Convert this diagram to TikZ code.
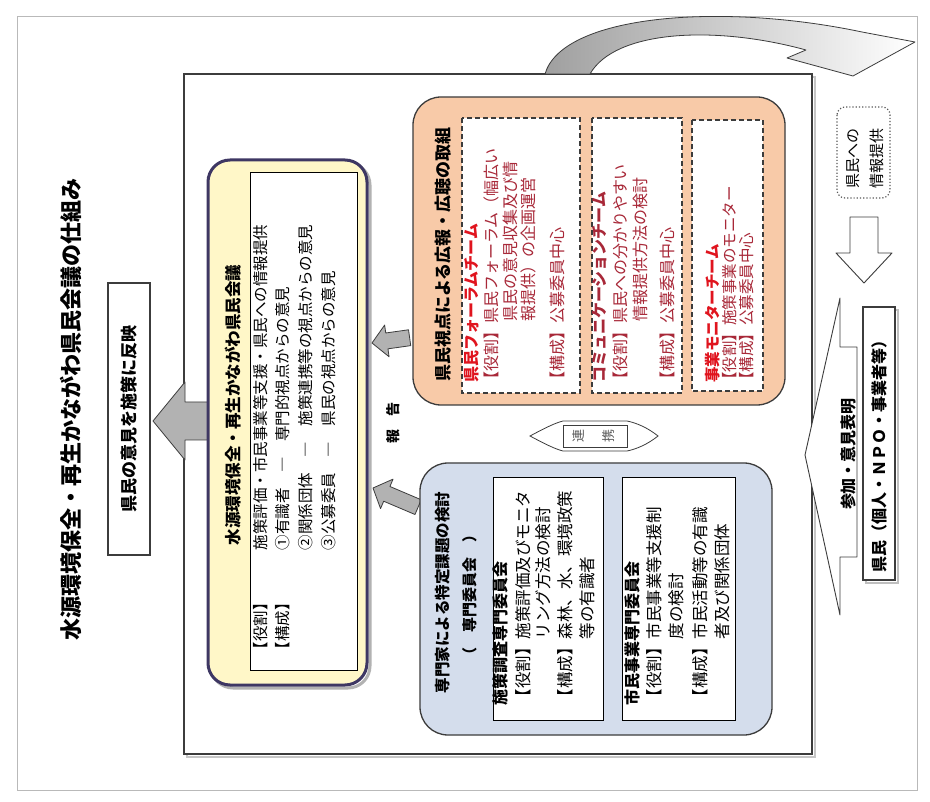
\documentclass[tikz,border=0pt]{standalone}
\usepackage{fontspec}
\setmainfont{Noto Sans CJK JP}
\definecolor{yfill}{HTML}{FFF7C8}
\definecolor{yborder}{HTML}{3E3763}
\definecolor{ofill}{HTML}{F8CAA8}
\definecolor{bfill}{HTML}{D4DDEC}
\definecolor{edge}{HTML}{3C3C3C}
\definecolor{tred}{HTML}{E0141E}
\definecolor{bred}{HTML}{A82838}
\definecolor{agray}{HTML}{B2B2B2}
\newcommand{\jfs}[1]{\fontsize{#1}{#1}\selectfont}
\begin{document}
\begin{tikzpicture}[x=1pt,y=-1pt,
  vt/.style={rotate=90, anchor=west, inner sep=0pt, outer sep=0pt},
  vc/.style={rotate=90, anchor=center, inner sep=0pt, outer sep=0pt},
  ybody/.style={vt, font=\jfs{15.5}},
  obody/.style={vt, font=\jfs{16}, text=bred},
  otitle/.style={vt, font=\jfs{16}\bfseries, text=tred},
  bbody/.style={vt, font=\jfs{16.5}},
  btitle/.style={vt, font=\jfs{16}\bfseries},
  blockarrow/.style={fill=agray, draw=edge, line width=0.8pt, line join=round},
  roundbox/.style={rounded corners=28pt, line width=1.3pt, draw=edge},
  dashbox/.style={fill=white, draw=edge, dashed, dash pattern=on 5pt off 3pt, line width=1.3pt},
  plainbox/.style={fill=white, draw=black, line width=1pt}
]
\useasboundingbox (0,0) rectangle (930,802);
\fill[white] (0,0) rectangle (930,802);
% outer thin border
\draw[gray!55, line width=0.6pt] (17,16) rectangle (917,790);

% title
\node[vt, font=\jfs{22}\bfseries] (title) at (71,640) {水源環境保全・再生かながわ県民会議の仕組み};

% reflect box
\node[draw=edge, line width=1.2pt, rotate=90, minimum width=272pt, minimum height=42pt,
      inner sep=0pt, font=\jfs{17}\bfseries] (reflect) at (129,419) {県民の意見を施策に反映};

% main frame (with light shadow)
\draw[gray!45, line width=2pt] (187,77) rectangle (815,757);
\draw[fill=white, draw=edge, line width=1.2pt] (184,74) rectangle (812,754);

% big left arrow
\draw[blockarrow, shift={(153,421)}] (0,0) -- (32,-39) -- (32,-19) -- (57,-19) -- (57,19) -- (32,19) -- (32,39) -- cycle;

% curved arrow top right
\shadedraw[left color=gray!75, right color=white, draw=edge, line width=0.8pt, line join=round]
  (545,74) .. controls (562,15) and (720,2) .. (862,32)
  -- (915,42) -- (853,76) -- (787,58) -- (806,50)
  .. controls (715,25) and (615,30) .. (590,74) -- cycle;

% yellow box
\draw[gray!60, line width=3pt, rounded corners=22pt] (211,163) rectangle (370,688);
\draw[fill=yfill, draw=yborder, line width=3pt, rounded corners=22pt] (208,160) rectangle (367,685);
\draw[plainbox] (250,173) rectangle (357,670);
\node[vt, font=\jfs{16.5}\bfseries] (ytitle) at (233,545) {水源環境保全・再生かながわ県民会議};
\node[ybody] (yrole) at (261,657) {【役割】};
\node[ybody] (yrole1) at (261,550) {施策評価・市民事業等支援・県民への情報提供};
\node[ybody] (ycomp) at (283,657) {【構成】};
\node[ybody] (ycomp1) at (283,550) {①有識者　―　専門的視点からの意見};
\node[ybody] (ycomp2) at (306,550) {②関係団体　―　施策連携等の視点からの意見};
\node[ybody] (ycomp3) at (329,550) {③公募委員　―　県民の視点からの意見};

% small arrows into yellow box
\draw[blockarrow, shift={(372,343)}, rotate=8] (0,0) -- (15,-16) -- (15,-8) -- (38,-8) -- (38,8) -- (15,8) -- (15,16) -- cycle;
\draw[blockarrow, shift={(373,488)}, rotate=-23] (0,0) -- (15,-16) -- (15,-8) -- (49,-8) -- (49,8) -- (15,8) -- (15,16) -- cycle;

% report text
\node[vc, font=\jfs{14}\bfseries] (rep1) at (393,437) {報};
\node[vc, font=\jfs{14}\bfseries] (rep2) at (393,410) {告};

% orange box
\draw[roundbox, fill=ofill] (413,97) rectangle (785,405);
\node[vt, font=\jfs{17}\bfseries] (otitle) at (443,382) {県民視点による広報・広聴の取組};
\draw[dashbox] (462,118) rectangle (580,393);
\draw[dashbox] (592,118) rectangle (682,393);
\draw[dashbox] (692,120) rectangle (763,391);
\node[otitle] (t1) at (472,383) {県民フォーラムチーム};
\node[obody] (t1a) at (491,388) {【役割】県民フォーラム（幅広い};
\node[obody] (t1b) at (510,322) {県民の意見収集及び情};
\node[obody] (t1c) at (528,322) {報提供）の企画運営};
\node[obody] (t1d) at (557,388) {【構成】公募委員中心};
\node[otitle, text=bred] (t2) at (600,383) {コミュニケーションチーム};
\node[obody] (t2a) at (620,388) {【役割】県民への分かりやすい};
\node[obody] (t2b) at (640,322) {情報提供方法の検討};
\node[obody] (t2c) at (667,388) {【構成】公募委員中心};
\node[otitle, font=\jfs{15.5}\bfseries] (t3) at (713,383) {事業モニターチーム};
\node[obody, font=\jfs{15.5}] (t3a) at (730,388) {【役割】施策事業のモニター};
\node[obody, font=\jfs{15.5}] (t3b) at (747,388) {【構成】公募委員中心};

% renkei double arrow
\draw[fill=white, draw=edge, line width=0.8pt]
  (530,436) .. controls (545,428) and (555,423) .. (563,421) -- (627,421)
  .. controls (637,423) and (648,428) .. (658,436)
  .. controls (648,444) and (637,449) .. (627,451) -- (563,451)
  .. controls (555,449) and (545,444) .. (530,436) -- cycle;
\draw[edge, line width=0.8pt] (563,425) rectangle (627,447);
\node[vc, font=\jfs{13}, text=gray!70!black] (ren) at (579,436) {連};
\node[vc, font=\jfs{13}, text=gray!70!black] (kei) at (609,436) {携};

% blue box
\draw[roundbox, fill=bfill] (420,463) rectangle (772,735);
\node[btitle, font=\jfs{15.5}\bfseries] (btitle) at (443,693) {専門家による特定課題の検討};
\node[btitle, font=\jfs{15}\bfseries] (bsub) at (470,662) {（　専門委員会　）};
\draw[plainbox] (493,478) rectangle (603,720);
\draw[plainbox] (622,478) rectangle (735,720);
\node[btitle] (c1) at (500,705) {施策調査専門委員会};
\node[bbody] (c1a) at (523,705) {【役割】施策評価及びモニタ};
\node[bbody] (c1b) at (543,639) {リング方法の検討};
\node[bbody] (c1c) at (565,705) {【構成】森林、水、環境政策};
\node[bbody] (c1d) at (587,639) {等の有識者};
\node[btitle] (c2) at (632,705) {市民事業専門委員会};
\node[bbody] (c2a) at (654,705) {【役割】市民事業等支援制};
\node[bbody] (c2b) at (676,639) {度の検討};
\node[bbody] (c2c) at (700,705) {【構成】市民活動等の有識};
\node[bbody] (c2d) at (722,639) {者及び関係団体};

% right side
\draw[gray!70!black, dotted, line width=1.2pt, rounded corners=8pt] (837,107) rectangle (890,198);
\node[vt, font=\jfs{15}] (info1) at (853,189) {県民への};
\node[vt, font=\jfs{15}] (info2) at (877,189) {情報提供};
\draw[fill=white, draw=edge, line width=0.9pt, line join=round]
  (850,217) -- (878,217) -- (878,253) -- (892,253) -- (864,283) -- (836,253) -- (850,253) -- cycle;
\draw[fill=white, draw=edge, line width=0.9pt, line join=round]
  (857,347) -- (857,557) -- (840,557) -- (840,615) -- (805,455) -- (840,298) -- (840,347) -- cycle;
\node[vt, font=\jfs{16}\bfseries] (sanka) at (848,510) {参加・意見表明};
\draw[gray!50, line width=2pt] (866,310) rectangle (898,583);
\draw[fill=white, draw=edge, line width=1.1pt] (863,307) rectangle (895,580);
\node[vt, font=\jfs{16}\bfseries] (kenmin) at (879,572) {県民（個人・ＮＰＯ・事業者等）};
\end{tikzpicture}
\end{document}
